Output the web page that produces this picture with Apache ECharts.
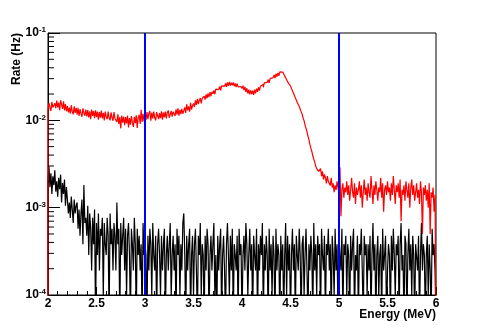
<!DOCTYPE html>
<html>
<head>
<meta charset="utf-8">
<script src="https://cdn.jsdelivr.net/npm/echarts@6/dist/echarts.min.js"></script>
<style>
  html, body { margin: 0; padding: 0; background: #fff; }
  #chart { width: 485px; height: 328px; }
</style>
</head>
<body>
<div id="chart"></div>
<script>
// histogram binning (MeV)
const binStart = 2.0
const binWidth = 0.01
// decades shown on the log axis
const yDecades = [-4, -3, -2, -1]
// cut lines (MeV)
const cutLines = [3, 5]

// red histogram, rate per bin in mHz (one row = 0.1 MeV)
const redRate_mHz = [
  13.2, 15.8, 13.9, 12.8, 16.3, 14.0, 13.4, 15.7, 13.8, 16.8,
  14.1, 16.0, 13.1, 17.0, 15.2, 13.5, 16.5, 13.0, 15.4, 12.7,
  14.6, 12.3, 14.0, 11.9, 14.9, 12.5, 11.7, 14.5, 12.2, 13.9,
  11.6, 13.9, 11.2, 13.4, 12.0, 11.0, 13.7, 12.1, 11.3, 13.3,
  11.1, 13.1, 10.8, 12.7, 10.3, 13.3, 11.2, 12.8, 10.6, 13.0,
  10.9, 12.6, 10.2, 12.4, 10.7, 12.9, 10.5, 12.2, 10.0, 12.6,
  11.0, 10.3, 12.6, 10.6, 10.0, 12.3, 10.8, 9.9, 12.4, 10.5,
  10.2, 9.6, 11.7, 9.1, 10.9, 8.1, 11.3, 9.4, 11.0, 8.8,
  10.9, 9.2, 11.3, 8.3, 10.6, 8.9, 11.2, 9.4, 8.4, 11.0,
  9.3, 11.4, 8.2, 10.8, 11.6, 9.1, 13.2, 9.6, 11.9, 9.7,
  12.2, 10.1, 12.4, 10.3, 12.0, 12.8, 9.9, 12.3, 10.5, 12.6,
  10.7, 10.0, 12.4, 12.9, 10.3, 12.1, 10.6, 12.7, 10.2, 12.3,
  10.8, 12.6, 10.5, 12.3, 13.0, 10.7, 10.4, 12.8, 11.0, 12.5,
  13.1, 11.2, 13.4, 11.6, 13.7, 11.3, 13.2, 11.8, 13.5, 11.9,
  12.9, 14.1, 12.2, 15.3, 13.0, 14.4, 12.6, 15.9, 13.3, 14.7,
  15.6, 14.2, 16.9, 15.0, 17.6, 15.3, 16.9, 18.0, 15.6, 17.9,
  17.0, 18.9, 17.2, 19.8, 17.9, 20.3, 18.4, 21.0, 19.0, 21.2,
  20.1, 22.0, 19.9, 22.8, 21.7, 22.5, 21.9, 24.4, 22.0, 24.8,
  23.7, 24.6, 23.9, 26.5, 24.2, 27.2, 24.8, 27.6, 25.0, 26.9,
  25.2, 27.1, 24.6, 26.5, 24.0, 26.3, 24.2, 25.1, 24.4, 24.8,
  23.1, 25.0, 22.2, 24.2, 21.1, 23.3, 20.3, 22.4, 19.8, 22.0,
  20.0, 21.9, 19.6, 22.5, 20.4, 23.1, 21.2, 23.9, 21.9, 24.6,
  23.5, 25.9, 23.9, 26.8, 26.1, 27.2, 27.0, 29.3, 26.8, 30.2,
  29.2, 30.6, 30.3, 33.0, 30.5, 34.1, 31.6, 35.0, 32.3, 35.8,
  34.4, 35.7, 34.9, 35.2, 32.3, 32.8, 29.2, 29.5, 26.5, 26.8,
  24.8, 23.1, 22.2, 20.6, 19.8, 18.1, 17.3, 16.0, 15.2, 14.4,
  13.7, 12.5, 11.8, 10.6, 9.9, 8.8, 8.1, 7.4, 6.6, 6.0,
  5.3, 4.8, 4.4, 3.9, 3.6, 3.3, 3.0, 2.8, 2.9, 2.6,
  2.5, 2.8, 2.3, 2.6, 2.1, 2.4, 2.2, 1.9, 2.3, 2.0,
  2.1, 1.8, 2.2, 1.7, 1.9, 1.5, 1.8, 1.6, 2.0, 1.7,
  1.4, 2.9, 0.8, 1.6, 1.9, 1.3, 1.7, 1.5, 2.0, 1.4,
  1.8, 1.2, 1.6, 2.2, 1.5, 1.3, 1.9, 1.1, 1.7, 1.4,
  1.6, 2.0, 1.3, 1.8, 1.0, 1.5, 2.1, 1.4, 1.7, 1.2,
  1.9, 1.5, 1.3, 2.3, 1.6, 1.1, 1.8, 1.4, 2.0, 1.6,
  1.2, 1.7, 1.5, 2.2, 1.3, 1.9, 0.9, 1.6, 1.8, 1.4,
  2.0, 1.5, 1.7, 1.2, 1.9, 1.4, 2.3, 1.6, 1.1, 1.8,
  1.5, 1.9, 1.3, 2.1, 0.7, 1.6, 1.4, 1.8, 1.2, 2.0,
  1.6, 1.3, 1.9, 1.0, 1.7, 2.1, 1.4, 1.8, 1.2, 1.5,
  1.9, 1.3, 1.6, 1.1, 2.0, 1.5, 0.5, 1.7, 1.4, 1.8,
  1.2, 1.6, 1.0, 1.9, 0.5, 1.5, 1.3, 1.7, 0.9, 1.4
]

// black histogram, counts per bin (one row = 0.1 MeV)
const blackCounts = [
  22, 31, 18, 26, 15, 24, 19, 28, 16, 21,
  14, 23, 17, 25, 12, 20, 15, 22, 11, 18,
  13, 9, 12, 8, 14, 10, 7, 13, 9, 11,
  12, 6, 10, 5, 9, 13, 4, 19, 7, 8,
  5, 11, 3, 9, 6, 2, 8, 4, 10, 0,
  7, 3, 9, 2, 6, 5, 8, 1, 7, 4,
  3, 8, 5, 0, 9, 4, 6, 2, 7, 5,
  2, 12, 4, 6, 0, 7, 3, 5, 8, 2,
  6, 1, 5, 7, 3, 0, 6, 4, 2, 8,
  4, 0, 6, 3, 5, 2, 4, 0, 7, 3,
  4, 3, 0, 5, 2, 6, 4, 1, 7, 3,
  2, 5, 0, 4, 6, 3, 1, 5, 2, 4,
  6, 0, 3, 5, 2, 4, 7, 1, 3, 5,
  2, 4, 0, 6, 3, 5, 1, 4, 2, 7,
  9, 3, 0, 5, 2, 4, 6, 0, 3, 5,
  1, 4, 6, 2, 0, 5, 3, 7, 1, 4,
  3, 0, 5, 2, 6, 4, 0, 3, 5, 2,
  4, 7, 1, 3, 0, 5, 2, 4, 6, 0,
  3, 5, 2, 0, 4, 7, 3, 1, 5, 2,
  6, 0, 4, 3, 2, 5, 0, 6, 3, 4,
  0, 3, 5, 2, 7, 4, 1, 3, 6, 2,
  4, 0, 5, 3, 2, 6, 0, 4, 2, 5,
  3, 7, 0, 4, 2, 5, 3, 0, 6, 2,
  4, 1, 5, 3, 0, 6, 2, 4, 3, 0,
  5, 2, 4, 0, 3, 7, 1, 5, 2, 4,
  0, 3, 6, 2, 4, 0, 5, 3, 2, 6,
  3, 0, 4, 5, 1, 3, 6, 2, 0, 4,
  2, 5, 3, 0, 7, 2, 4, 1, 5, 3,
  4, 0, 6, 3, 2, 5, 0, 4, 3, 6,
  2, 4, 0, 5, 3, 1, 6, 2, 4, 0,
  5, 3, 2, 6, 0, 4, 3, 5, 1, 4,
  3, 0, 5, 2, 4, 6, 0, 3, 2, 5,
  0, 4, 3, 6, 2, 0, 5, 3, 4, 1,
  4, 2, 5, 0, 3, 7, 2, 4, 0, 3,
  5, 1, 3, 4, 0, 6, 2, 3, 5, 0,
  2, 4, 3, 0, 5, 2, 6, 3, 1, 4,
  3, 5, 0, 4, 7, 2, 3, 0, 5, 4,
  0, 3, 6, 2, 4, 1, 5, 3, 0, 4,
  4, 2, 5, 0, 3, 7, 2, 4, 3, 0,
  3, 5, 1, 4, 2, 0, 6, 3, 4, 2
]
// rate of one count in the black histogram (Hz)
const ratePerCount = 0.955e-4

const FONT = '"Liberation Sans", Arial, Helvetica, sans-serif'
const yMin = Math.pow(10, yDecades[0])
const yMax = Math.pow(10, yDecades[yDecades.length - 1])
const floor = yMin / 2 // empty bins go below the frame and get clipped

// histogram outline: start at baseline, step through bins, back to baseline
function histPoints(rates) {
  const pts = [[binStart, floor]]
  rates.forEach((v, i) => {
    pts.push([binStart + i * binWidth, Math.max(v, floor)])
  })
  const xEnd = binStart + rates.length * binWidth
  pts.push([xEnd, Math.max(rates[rates.length - 1], floor)])
  pts.push([xEnd, floor])
  return pts
}

const redHz = redRate_mHz.map(v => v * 1e-3)
const blackHz = blackCounts.map(c => c * ratePerCount)

// log minor ticks 2..9 in every decade
const minorTicks = []
for (let d = 0; d < yDecades.length - 1; d++) {
  for (let m = 2; m <= 9; m++) minorTicks.push([binStart, m * Math.pow(10, yDecades[d])])
}

const chart = echarts.init(document.getElementById('chart'), null, { renderer: 'canvas' })

const option = {
  animation: false,
  backgroundColor: '#fff',
  textStyle: { fontFamily: FONT },
  grid: {
    left: 48, right: 49, top: 33, bottom: 33,
    show: true, borderColor: '#000', borderWidth: 1, backgroundColor: '#fff'
  },
  xAxis: {
    type: 'value',
    min: 2, max: 6, interval: 0.5,
    axisLine: { show: true, lineStyle: { color: '#000', width: 1 } },
    axisTick: { show: true, inside: true, length: 8, lineStyle: { color: '#000' } },
    minorTick: { show: true, splitNumber: 5, length: 4, lineStyle: { color: '#000' } },
    splitLine: { show: false },
    axisLabel: {
      color: '#000', fontSize: 12, fontWeight: 'bold', fontFamily: FONT, margin: 3,
      formatter: v => String(v)
    }
  },
  yAxis: {
    type: 'log', logBase: 10,
    min: yMin, max: yMax,
    axisLine: { show: true, lineStyle: { color: '#000', width: 1 } },
    axisTick: { show: true, inside: true, length: 12, lineStyle: { color: '#000' } },
    minorTick: { show: false },
    splitLine: { show: false },
    axisLabel: {
      margin: 2,
      formatter: v => '{b|10}{s|' + Math.round(Math.log10(v)) + '}',
      rich: {
        b: { fontSize: 12, fontWeight: 'bold', fontFamily: FONT, color: '#000' },
        s: { fontSize: 8, fontWeight: 'bold', fontFamily: FONT, color: '#000', verticalAlign: 'top', padding: [0, 0, 6, 0] }
      }
    }
  },
  graphic: [
    {
      type: 'text', x: 17, y: 33, rotation: Math.PI / 2,
      style: { text: 'Rate (Hz)', font: 'bold 12px ' + FONT, fill: '#000', align: 'right', verticalAlign: 'middle' }
    },
    {
      type: 'text', x: 436, y: 315,
      style: { text: 'Energy (MeV)', font: 'bold 12px ' + FONT, fill: '#000', align: 'right', verticalAlign: 'middle' }
    }
  ],
  series: [
    {
      name: 'black', type: 'line', step: 'end', data: histPoints(blackHz),
      symbol: 'none', clip: true, z: 2, sampling: null,
      lineStyle: { color: '#000', width: 1.2 }
    },
    {
      name: 'red', type: 'line', step: 'end', data: histPoints(redHz),
      symbol: 'none', clip: true, z: 3, sampling: null,
      lineStyle: { color: '#ff0000', width: 1.2 }
    },
    {
      name: 'cuts', type: 'line', data: [], z: 4, silent: true,
      markLine: {
        silent: true, symbol: ['none', 'none'], label: { show: false },
        lineStyle: { color: '#0000ff', width: 2, type: 'solid' },
        data: cutLines.map(x => ({ xAxis: x }))
      }
    },
    {
      name: 'yminor', type: 'custom', coordinateSystem: 'cartesian2d', silent: true, z: 5,
      data: minorTicks,
      renderItem: (params, api) => {
        const p = api.coord([api.value(0), api.value(1)])
        return {
          type: 'line',
          shape: { x1: p[0], y1: p[1], x2: p[0] + 6, y2: p[1] },
          style: { stroke: '#000', lineWidth: 1 }
        }
      }
    }
  ]
}

chart.setOption(option)
</script>
</body>
</html>
